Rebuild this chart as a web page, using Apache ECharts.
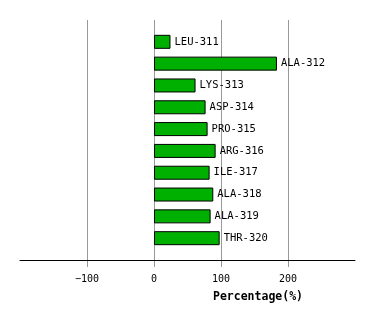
<!DOCTYPE html>
<html><head><meta charset="utf-8">
<script src="https://cdn.jsdelivr.net/npm/echarts@6/dist/echarts.min.js"></script>
<style>html,body{margin:0;padding:0;background:#fff}#c{width:374px;height:320px}</style>
</head><body><div id="c"></div>
<script>
const residues = ['LEU-311','ALA-312','LYS-313','ASP-314','PRO-315','ARG-316','ILE-317','ALA-318','ALA-319','THR-320'];
const percentages = [24.6, 183.5, 62, 77, 80, 92, 83, 88.5, 84.5, 98];
const tickValues = [-100, 0, 100, 200];
const axisTitle = 'Percentage(%)';

const cats = [''].concat(residues, ['']);
const vals = [null].concat(percentages, [null]);
const font = 'DejaVu Sans Mono';
const gridLine = {color: '#999', type: 'solid', width: 1, opacity: 1};
const chart = echarts.init(document.getElementById('c'), null, {renderer: 'canvas'});
chart.setOption({
  animation: false,
  backgroundColor: '#fff',
  title: {
    text: axisTitle, left: 208, top: 286,
    textStyle: {fontFamily: font, fontSize: 11.5, fontWeight: 'bold', color: '#000'}
  },
  grid: [
    {left: 20, right: 19, top: 20, bottom: 60, containLabel: false},
    {left: 20, right: 19, top: 260, height: 20, containLabel: false}
  ],
  xAxis: [{
    type: 'value', min: -200, max: 300, interval: 100, gridIndex: 0, z: 5,
    axisLine: {show: true, onZero: false, lineStyle: {color: '#000', width: 1}},
    axisTick: {show: false},
    axisLabel: {customValues: tickValues, fontFamily: font, fontSize: 10, color: '#000', margin: 14,
      formatter: v => (v < 0 ? '\u2212' + Math.abs(v) : '' + v)},
    splitLine: {show: false}
  }, {
    type: 'value', min: -200, max: 300, gridIndex: 1, show: false
  }],
  yAxis: [{
    type: 'category', data: cats, inverse: true, boundaryGap: false, gridIndex: 0,
    axisLine: {show: false}, axisTick: {show: false}, axisLabel: {show: false}, splitLine: {show: false}
  }, {
    type: 'value', min: 0, max: 1, gridIndex: 1, show: false
  }],
  series: [{
    type: 'bar', data: vals, barWidth: 14, z: 3,
    itemStyle: {color: '#00b000', borderColor: '#000', borderWidth: 1},
    label: {show: true, position: 'right', distance: 4, formatter: p => cats[p.dataIndex],
      fontFamily: font, fontSize: 10.5, color: '#000'},
    markLine: {
      silent: true, symbol: 'none', label: {show: false}, z: 1,
      lineStyle: gridLine,
      data: tickValues.map(v => ({xAxis: v}))
    }
  }, {
    type: 'scatter', xAxisIndex: 1, yAxisIndex: 1, symbolSize: 6,
    itemStyle: {color: 'rgba(0,0,0,0)'},
    data: tickValues.map(v => [v, 0.5]),
    markLine: {
      symbol: 'none', label: {show: false},
      lineStyle: gridLine,
      data: tickValues.map(v => [{coord: [v, 1]}, {coord: [v, 0.65]}])
    }
  }]
});
</script></body></html>
